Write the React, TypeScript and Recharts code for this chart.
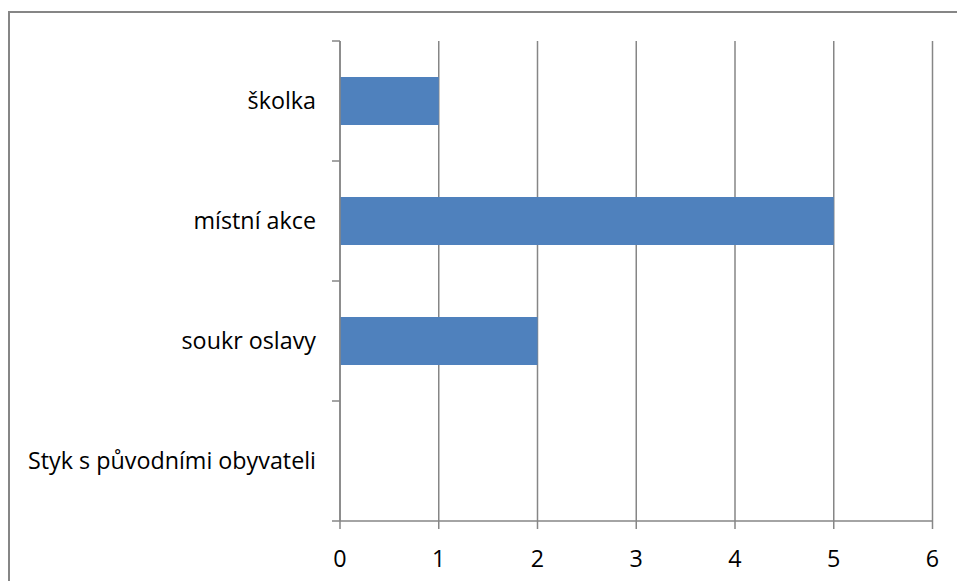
import { Bar, BarChart, CartesianGrid, XAxis, YAxis } from "recharts";

const categories = ["školka", "místní akce", "soukr oslavy", "Styk s původními obyvateli"];
const counts = [1, 5, 2, 0];
const xTicks = [0, 1, 2, 3, 4, 5, 6];

const data = categories.map((name, i) => ({ name, value: counts[i] }));

const GRAY = "#868686";
const FONT = "'Open Sans', sans-serif";
const PLOT_TOP = 28;
const PLOT_HEIGHT = 480;
const BAND = PLOT_HEIGHT / categories.length;

function CategoryTick(props: any) {
  const { x, y, payload, index } = props;
  const axisX = 330;
  const top = payload.coordinate - BAND / 2;
  return (
    <g>
      <line x1={axisX - 8} x2={axisX} y1={top} y2={top} stroke={GRAY} strokeWidth={1.5} />
      {index === categories.length - 1 && (
        <line
          x1={axisX - 8}
          x2={axisX}
          y1={top + BAND}
          y2={top + BAND}
          stroke={GRAY}
          strokeWidth={1.5}
        />
      )}
      <text x={x} y={y} dy="0.355em" textAnchor="end" fill="#000" fontSize={23.3} fontFamily={FONT}>
        {payload.value}
      </text>
    </g>
  );
}

export default function App() {
  return (
    <div
      style={{
        position: "fixed",
        left: 8,
        top: 11,
        width: 947,
        height: 568,
        borderTop: `2px solid ${GRAY}`,
        borderLeft: `2px solid ${GRAY}`,
        background: "#fff",
      }}
    >
      <BarChart
        width={947}
        height={568}
        data={data}
        layout="vertical"
        margin={{ top: PLOT_TOP, right: 24.5, bottom: 0, left: 0 }}
        barSize={48}
      >
        <CartesianGrid horizontal={false} stroke={GRAY} strokeWidth={1.5} />
        <XAxis
          type="number"
          domain={[0, 6]}
          ticks={xTicks}
          interval={0}
          height={60}
          tickSize={8}
          tickMargin={21}
          axisLine={{ stroke: GRAY, strokeWidth: 1.5 }}
          tickLine={{ stroke: GRAY, strokeWidth: 1.5 }}
          tick={{ fill: "#000", fontSize: 23.3, fontFamily: FONT }}
        />
        <YAxis
          type="category"
          dataKey="name"
          width={330}
          tickSize={8}
          tickMargin={16}
          tickLine={false}
          interval={0}
          axisLine={{ stroke: GRAY, strokeWidth: 1.5 }}
          tick={<CategoryTick />}
        />
        <Bar dataKey="value" fill="#4F81BD" isAnimationActive={false} />
      </BarChart>
    </div>
  );
}
